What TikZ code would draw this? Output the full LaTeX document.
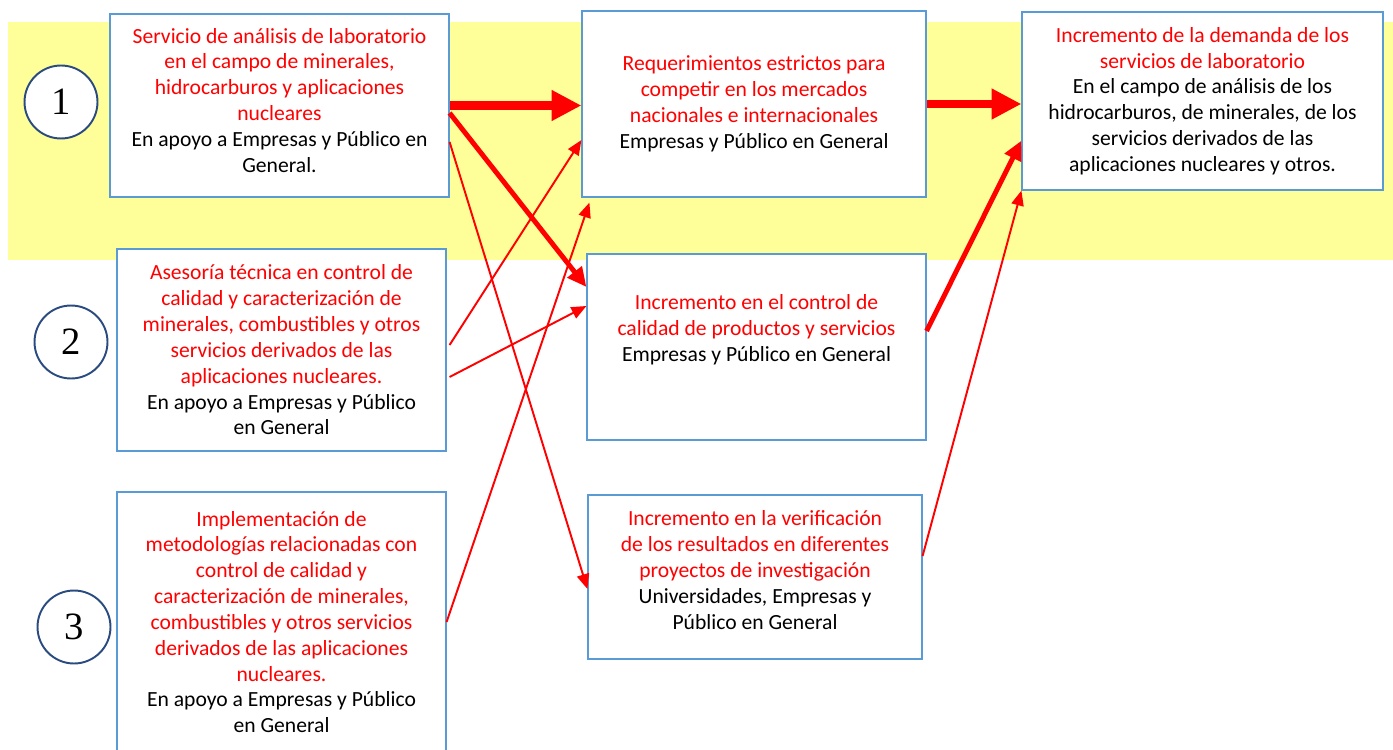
\documentclass[tikz,border=0pt]{standalone}
\usepackage{fontspec}
\setmainfont{Carlito}
\newfontfamily\numfont{Liberation Serif}
\usetikzlibrary{arrows.meta, positioning, calc}
\usepackage{xcolor}
\definecolor{bandyellow}{HTML}{FFFF99}
\definecolor{boxblue}{HTML}{5B9BD5}
\definecolor{navy}{HTML}{2A4B80}
\definecolor{hotred}{HTML}{FF0000}
\newcommand{\padbelow}[1]{\rule[-#1]{0pt}{0pt}}
\tikzset{
  box/.style={rectangle, draw=boxblue, line width=0.7pt, fill=white,
    align=center, font=\fontsize{12.3}{14.7}\selectfont, inner sep=2pt},
  numcircle/.style={circle, draw=navy, line width=1.1pt, fill=white,
    minimum size=1.46cm, inner sep=0pt, font=\fontsize{22}{24}\numfont},
  bigarrow/.style={-{Triangle[length=17pt, width=16.5pt]}, line width=5pt, hotred},
  midarrow/.style={-{Triangle[length=11pt, width=10pt]}, line width=2.8pt, hotred},
  thinarrow/.style={-{Triangle[length=8.5pt, width=7pt]}, line width=1.1pt, hotred},
}
\newcommand{\rd}[1]{\textcolor{hotred}{#1}}

\begin{document}
\begin{tikzpicture}[x=0.02cm, y=-0.02cm]
\useasboundingbox (0,0) rectangle (1393,750);
% yellow band
\fill[bandyellow] (8,22) rectangle (1393,260);
% numbers
\node[numcircle] (n1) at (61,102) {1};
\node[numcircle] (n2) at (71,342) {2};
\node[numcircle] (n3) at (74,627) {3};
% boxes
\node[box, minimum width=6.78cm, minimum height=3.66cm] (A) at (279.5,105.5)
  {\rd{Servicio de análisis de laboratorio}\\ \rd{en el campo de minerales,}\\
   \rd{hidrocarburos y aplicaciones}\\ \rd{nucleares}\\
   En apoyo a Empresas y Público en\\ General.\padbelow{6pt}};
\node[box, minimum width=6.88cm, minimum height=3.72cm] (B) at (754,104)
  {\rd{Requerimientos estrictos para}\\ \rd{competir en los mercados}\\
   \rd{nacionales e internacionales}\\ Empresas y Público en General};
\node[box, minimum width=7.22cm, minimum height=3.56cm] (C) at (1202.5,101)
  {\rd{Incremento de la demanda de los}\\ \rd{servicios de laboratorio}\\
   En el campo de análisis de los\\ hidrocarburos, de minerales, de los\\
   servicios derivados de las\\ aplicaciones nucleares y otros.};
\node[box, minimum width=6.58cm, minimum height=4.04cm] (D) at (281.5,350)
  {\rd{Asesoría técnica en control de}\\ \rd{calidad y caracterización de}\\
   \rd{minerales, combustibles y otros}\\ \rd{servicios derivados de las}\\
   \rd{aplicaciones nucleares.}\\ En apoyo a Empresas y Público\\ en General};
\node[box, minimum width=6.78cm, minimum height=3.72cm] (E) at (756.5,347)
  {\rd{Incremento en el control de}\\ \rd{calidad de productos y servicios}\\
   Empresas y Público en General\padbelow{22pt}};
\node[box, minimum width=6.58cm, minimum height=5.2cm] (F) at (281.5,622)
  {\rd{Implementación de}\\ \rd{metodologías relacionadas con}\\
   \rd{control de calidad y}\\ \rd{caracterización de minerales,}\\
   \rd{combustibles y otros servicios}\\ \rd{derivados de las aplicaciones}\\
   \rd{nucleares.}\\ En apoyo a Empresas y Público\\ en General};
\node[box, minimum width=6.68cm, minimum height=3.28cm] (G) at (755,577)
  {\rd{Incremento en la verificación}\\ \rd{de los resultados en diferentes}\\
   \rd{proyectos de investigación}\\ Universidades, Empresas y\\
   Público en General\padbelow{8pt}};
\coordinate (Bfoot) at ($(B.south west)+(8,5)$);
% connectors
\draw[bigarrow] (A.east) -- (A.east -| B.west);
\draw[bigarrow] (B.east) -- (B.east -| C.west);
\draw[midarrow] ($(A.east)+(0,7.5)$) -- ($(E.west)+(0,-60)$);
\draw[midarrow] ($(E.east)+(0,-16)$) -- ($(C.south west)+(0,-50)$);
\draw[thinarrow] ($(A.east)+(0,36.5)$) -- ($(G.west)+(0,12)$);
\draw[thinarrow] ($(D.east)+(3,-5)$) -- ($(B.west)+(0,36)$);
\draw[thinarrow] ($(D.east)+(3,27)$) -- ($(E.west)+(0,-41)$);
\draw[thinarrow] (F.east) -- (Bfoot);
\draw[thinarrow] ($(G.east)+(0,-21)$) -- (C.south west);
\end{tikzpicture}
\end{document}
